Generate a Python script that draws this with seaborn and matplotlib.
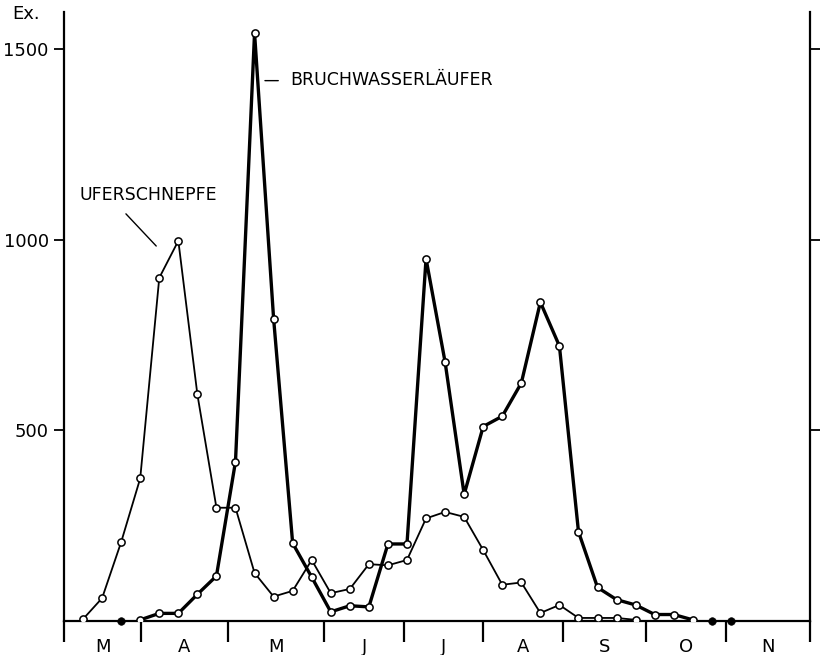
import matplotlib
matplotlib.use("Agg")
import matplotlib.pyplot as plt
import seaborn as sns
import pandas as pd

# ---- data (weekly counts, x = week index from early March) ----
ufer_weeks = list(range(0, 30))
ufer_counts = [5, 60, 207, 374, 900, 997, 594, 297, 297, 126,
               64, 79, 160, 73, 84, 149, 146, 160, 269, 286,
               273, 186, 95, 101, 21, 42, 8, 8, 8, 3]

bruch_weeks = list(range(3, 33))
bruch_counts = [3, 20, 20, 70, 118, 418, 1542, 793, 204, 115,
                24, 40, 37, 202, 202, 950, 679, 332, 510, 537,
                624, 836, 721, 234, 88, 56, 42, 17, 17, 3]

nil_weeks = [2, 33, 34]          # weeks with no birds (filled dots)
nil_counts = [0, 0, 0]

months = ["M", "A", "M", "J", "J", "A", "S", "O", "N"]
month_edges = [-1.0, 3.05, 7.6, 12.65, 16.85, 21.0, 25.2, 29.55, 33.75, 38.15]
y_ticks = [500, 1000, 1500]

ufer_df = pd.DataFrame({"week": ufer_weeks, "count": ufer_counts})
bruch_df = pd.DataFrame({"week": bruch_weeks, "count": bruch_counts})
nil_df = pd.DataFrame({"week": nil_weeks, "count": nil_counts})

sns.set_style("white")
plt.rcParams["font.family"] = ["DejaVu Sans"]
plt.rcParams["text.color"] = "black"
plt.rcParams["axes.labelcolor"] = "black"
plt.rcParams["xtick.color"] = "black"
plt.rcParams["ytick.color"] = "black"

fig = plt.figure(figsize=(8.21, 6.55), dpi=100)
ax = fig.add_axes([64 / 821, 34 / 655, 746 / 821, 609 / 655])

sns.lineplot(data=ufer_df, x="week", y="count", ax=ax, color="black",
             linewidth=1.3, marker="o", markersize=5.2,
             markerfacecolor="white", markeredgecolor="black",
             markeredgewidth=1.1, zorder=3)
sns.lineplot(data=bruch_df, x="week", y="count", ax=ax, color="black",
             linewidth=2.4, marker="o", markersize=5.2,
             markerfacecolor="white", markeredgecolor="black",
             markeredgewidth=1.1, zorder=4)
sns.scatterplot(data=nil_df, x="week", y="count", ax=ax, color="black",
                s=30, edgecolor="black", zorder=5, clip_on=False)

ax.set_xlim(month_edges[0], month_edges[-1])
ax.set_ylim(0, 1597)

# spines
for side in ["left", "right", "bottom"]:
    ax.spines[side].set_visible(True)
    ax.spines[side].set_linewidth(1.6)
    ax.spines[side].set_color("black")
ax.spines["top"].set_visible(False)

# y ticks on both sides, labels only on left
ax.set_yticks(y_ticks)
ax.set_yticklabels([str(v) for v in y_ticks])
ax.tick_params(axis="y", which="major", direction="out", length=7, width=1.3,
               left=True, right=True, labelleft=True, labelright=False,
               labelsize=13, pad=4, colors="black", labelcolor="black")

# x: month separators as long ticks, month names centred between them
mids = [(a + b) / 2 for a, b in zip(month_edges[:-1], month_edges[1:])]
ax.set_xticks(month_edges)
ax.set_xticklabels([""] * len(month_edges))
ax.set_xticks(mids, minor=True)
ax.set_xticklabels(months, minor=True)
ax.tick_params(axis="x", which="major", direction="out", length=15, width=1.6,
               bottom=True, colors="black")
ax.tick_params(axis="x", which="minor", length=0, labelsize=13, pad=12,
               colors="black", labelcolor="black")

ax.set_xlabel("")
ax.set_ylabel("")

# annotations
fig.text(12 / 821, 1 - 14 / 655, "Ex.", fontsize=13, va="center", ha="left",
         color="black")
ax.text(-0.2, 1117, "UFERSCHNEPFE", fontsize=12.5, va="center", ha="left",
        color="black")
ax.annotate("", xy=(3.94, 978), xytext=(2.15, 1073),
            arrowprops=dict(arrowstyle="-", color="black", lw=1.0))
ax.text(10.85, 1419, "BRUCHWASSERLÄUFER", fontsize=12.5, va="center",
        ha="left", color="black")
ax.annotate("", xy=(10.39, 1417), xytext=(9.40, 1417),
            arrowprops=dict(arrowstyle="-", color="black", lw=1.0))

fig.savefig("out.png", dpi=100, facecolor="white")
